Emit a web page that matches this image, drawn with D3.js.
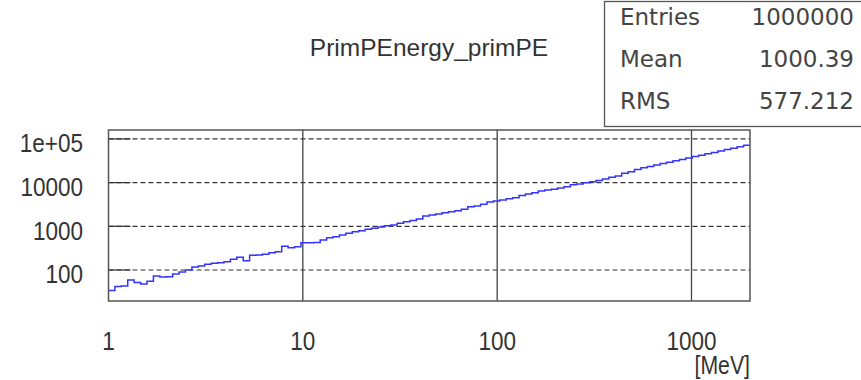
<!DOCTYPE html>
<html>
<head>
<meta charset="utf-8">
<script src="https://cdnjs.cloudflare.com/ajax/libs/d3/7.8.5/d3.min.js"></script>
<style>
body { margin: 0; background: #fff; }
text { fill: #333; font-family: "Liberation Sans", Arial, sans-serif; }
</style>
</head>
<body>
<div id="divChart"></div>
<script>
var title = "PrimPEnergy_primPE";
var xUnit = "[MeV]";
var xRange = [1, 2000];
var nBins = 100;
// bin contents (log-spaced bins from 1 to 2000 MeV)
var binCounts = [
    34, 42, 43, 59, 52, 48, 55, 73, 69, 70,
    81, 90, 100, 117, 123, 135, 142, 147, 155, 176,
    195, 163, 217, 219, 229, 249, 262, 349, 324, 341,
    422, 418, 425, 486, 548, 578, 632, 692, 752, 793,
    854, 900, 964, 1032, 1071, 1171, 1274, 1358, 1469, 1720,
    1814, 1911, 2047, 2158, 2275, 2449, 2809, 2915, 3187, 3597,
    3793, 4000, 4285, 4508, 5070, 5483, 5874, 6427, 6774, 7029,
    7519, 8056, 8954, 9290, 9951, 10490, 11170, 12080, 13210, 14160,
    16330, 17750, 19950, 21830, 23490, 25290, 27230, 29310, 31550, 33960,
    36560, 39360, 42360, 45600, 49090, 52840, 56880, 61230, 65910, 71780
];
var yTicks = [100, 1000, 10000, 100000];
var yTickLabels = ["100", "1000", "10000", "1e+05"];
var xTicks = [1, 10, 100, 1000];
var xTickLabels = ["1", "10", "100", "1000"];
var statNames = ["Entries", "Mean", "RMS"];
var statValues = ["1000000", "1000.39", "577.212"];

var frame = { left: 108.5, right: 750, top: 130, bottom: 301 };
var narrow = 0.85; // horizontal squeeze for axis label font

var svg = d3.select("#divChart").append("svg")
    .attr("width", 861)
    .attr("height", 380)
    .style("display", "block");

var x = d3.scaleLog().domain(xRange).range([frame.left, frame.right]);
var y = d3.scaleLog().domain([19.5, 160000]).range([frame.bottom, frame.top]);

// bin edges
var binEdges = d3.range(nBins + 1).map(function(i) {
    return x.invert(frame.left + (frame.right - frame.left) * i / nBins);
});

// horizontal grid (dashed) with solid major tick at left
svg.append("g").selectAll("line.hgrid")
    .data(yTicks).enter().append("line")
    .attr("class", "hgrid")
    .attr("x1", frame.left).attr("x2", frame.right)
    .attr("y1", function(d) { return y(d); })
    .attr("y2", function(d) { return y(d); })
    .attr("stroke", "#333")
    .attr("stroke-width", 1.2)
    .attr("stroke-dasharray", "5,3");

svg.append("g").selectAll("line.ytick")
    .data(yTicks).enter().append("line")
    .attr("class", "ytick")
    .attr("x1", frame.left).attr("x2", frame.left + 22)
    .attr("y1", function(d) { return y(d); })
    .attr("y2", function(d) { return y(d); })
    .attr("stroke", "#333")
    .attr("stroke-width", 1.2);

// vertical grid
svg.append("g").selectAll("line.vgrid")
    .data(xTicks.slice(1)).enter().append("line")
    .attr("class", "vgrid")
    .attr("x1", function(d) { return x(d); })
    .attr("x2", function(d) { return x(d); })
    .attr("y1", frame.top).attr("y2", frame.bottom)
    .attr("stroke", "#444")
    .attr("stroke-width", 1.3);

// histogram as steps
var pts = binCounts.map(function(c, i) { return [binEdges[i], c]; });
pts.push([binEdges[nBins], binCounts[nBins - 1]]);
var line = d3.line()
    .x(function(d) { return x(d[0]); })
    .y(function(d) { return y(d[1]); })
    .curve(d3.curveStepAfter);

svg.append("path")
    .datum(pts)
    .attr("d", line)
    .attr("fill", "none")
    .attr("stroke", "#3333ff")
    .attr("stroke-width", 1.5);

// frame
svg.append("rect")
    .attr("x", frame.left).attr("y", frame.top)
    .attr("width", frame.right - frame.left)
    .attr("height", frame.bottom - frame.top)
    .attr("fill", "none")
    .attr("stroke", "#555")
    .attr("stroke-width", 1.5);

// axis labels
svg.append("g").selectAll("text")
    .data(yTicks).enter().append("text")
    .attr("transform", function(d) {
        return "translate(83," + (y(d) + 13.5) + ") scale(" + narrow + ",1)";
    })
    .attr("text-anchor", "end")
    .style("font-size", "26.5px")
    .text(function(d, i) { return yTickLabels[i]; });

svg.append("g").selectAll("text")
    .data(xTicks).enter().append("text")
    .attr("transform", function(d) {
        return "translate(" + x(d) + ",350) scale(" + narrow + ",1)";
    })
    .attr("text-anchor", "middle")
    .style("font-size", "26.5px")
    .text(function(d, i) { return xTickLabels[i]; });

svg.append("text")
    .attr("transform", "translate(" + frame.right + ",374) scale(" + narrow + ",1)")
    .attr("text-anchor", "end")
    .style("font-size", "25px")
    .text(xUnit);

// title
svg.append("text")
    .attr("x", 429)
    .attr("y", 56)
    .attr("text-anchor", "middle")
    .style("font-size", "24.5px")
    .text(title);

// stats box
svg.append("rect")
    .attr("x", 604.5).attr("y", 1.5)
    .attr("width", 300).attr("height", 125)
    .attr("fill", "#fff")
    .attr("stroke", "#555")
    .attr("stroke-width", 1.3);

var statRows = svg.append("g").selectAll("g")
    .data(statNames).enter().append("g");
statRows.append("text")
    .attr("x", 620)
    .attr("y", function(d, i) { return 25 + i * 42; })
    .style("font-family", "DejaVu Sans")
    .style("font-size", "23px")
    .style("fill", "#444")
    .text(function(d) { return d; });
statRows.append("text")
    .attr("x", 854)
    .attr("y", function(d, i) { return 25 + i * 42; })
    .attr("text-anchor", "end")
    .style("font-family", "DejaVu Sans")
    .style("font-size", "23px")
    .style("fill", "#444")
    .text(function(d, i) { return statValues[i]; });
</script>
</body>
</html>
